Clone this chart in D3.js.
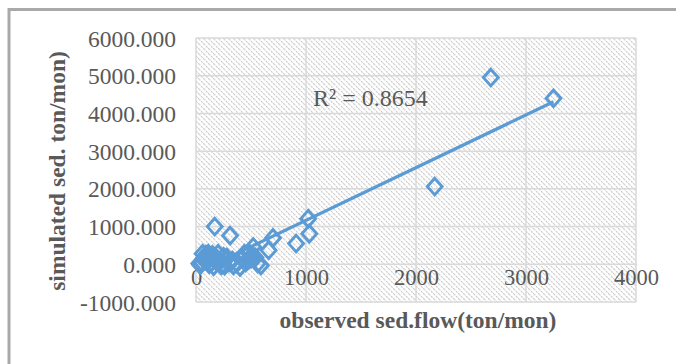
<!DOCTYPE html>
<html><head><meta charset="utf-8">
<script src="https://cdn.jsdelivr.net/npm/d3@7"></script>
<style>
html,body{margin:0;padding:0;background:#fff;}
svg{display:block;}
svg text{font-family:"Liberation Serif","Times New Roman",serif !important;}
</style></head>
<body>
<script>
// observed sediment flow (ton/mon)
const observed = [30, 40, 50, 60, 70, 80, 90, 100, 110, 120, 130, 140, 150, 160, 170, 180, 190, 200, 210, 230, 250, 260, 280, 300, 310, 330, 340, 370, 400, 420, 440, 450, 470, 480, 500, 510, 520, 540, 560, 590, 660, 700, 910, 1020, 1030, 2170, 2680, 3250];
// simulated sediment (ton/mon)
const simulated = [20, -20, 60, 280, 150, 100, 250, 180, 280, 0, 200, 50, 250, -50, 1000, 100, 150, 280, 50, -30, 200, -40, 180, 50, 760, 100, -30, 20, -70, 150, 280, 50, 100, 300, 150, 240, 460, 180, 20, -30, 370, 700, 550, 1210, 810, 2060, 4950, 4400];
const xTicks = [0, 1000, 2000, 3000, 4000];
const yTicks = [-1000, 0, 1000, 2000, 3000, 4000, 5000, 6000];
const r2Label = "R² = 0.8654";
const xTitle = "observed sed.flow(ton/mon)";
const yTitle = "simulated sed. ton/mon)";

const W = 676, H = 364;
const FONT = '"Liberation Serif","Times New Roman",serif';
const svg = d3.select("body").append("svg").attr("width", W).attr("height", H);

const plot = {left: 196, right: 636, top: 38, bottom: 302};
const x = d3.scaleLinear().domain([0, 4000]).range([plot.left, plot.right]);
const y = d3.scaleLinear().domain([-1000, 6000]).range([plot.bottom, plot.top]);

// hatch pattern
const defs = svg.append("defs");
const pat = defs.append("pattern").attr("id", "hatch").attr("patternUnits", "userSpaceOnUse")
  .attr("width", 5).attr("height", 5);
pat.append("rect").attr("width", 5).attr("height", 5).attr("fill", "#fff");
pat.append("path").attr("d", "M-1,-1 L6,6 M-1,4 L1,6 M4,-1 L6,1")
  .attr("stroke", "#c8c8c8").attr("stroke-width", 1.1).attr("stroke-dasharray", "2,1");

// outer frame (left and top visible)
svg.append("line").attr("x1", 9).attr("x2", W).attr("y1", 9.5).attr("y2", 9.5)
  .attr("stroke", "#a9a9a9").attr("stroke-width", 3);
svg.append("line").attr("x1", 9).attr("x2", 9).attr("y1", 8).attr("y2", H)
  .attr("stroke", "#a9a9a9").attr("stroke-width", 3);

// plot background
svg.append("rect").attr("x", plot.left).attr("y", plot.top)
  .attr("width", plot.right - plot.left).attr("height", plot.bottom - plot.top)
  .attr("fill", "url(#hatch)");

// gridlines
const grid = svg.append("g");
grid.selectAll(".hg").data(yTicks).join("line")
  .attr("x1", plot.left).attr("x2", plot.right)
  .attr("y1", d => y(d)).attr("y2", d => y(d))
  .attr("stroke", "#d9d9d9").attr("stroke-width", 1.5);
grid.selectAll(".vg").data(xTicks).join("line")
  .attr("y1", plot.top).attr("y2", plot.bottom)
  .attr("x1", d => x(d)).attr("x2", d => x(d))
  .attr("stroke", "#d9d9d9").attr("stroke-width", 1.5);

// y axis labels
const yAxis = d3.axisLeft(y).tickValues(yTicks).tickSize(0).tickPadding(20)
  .tickFormat(d => d3.format(".3f")(d).replace("−", "-"));
const ya = svg.append("g").attr("transform", `translate(${plot.left},0)`).call(yAxis)
  .attr("font-family", null).attr("font-size", null);
ya.select(".domain").remove();
ya.selectAll("text").style("font-family", FONT).style("font-size", "23.5px")
  .attr("fill", "#595959").attr("dy", "0.34em");

// x axis labels (placed near plot bottom)
const xAxis = d3.axisBottom(x).tickValues(xTicks).tickSize(0).tickPadding(0).tickFormat(d3.format("d"));
const xa = svg.append("g").attr("transform", `translate(0,${plot.bottom - 19})`).call(xAxis)
  .attr("font-family", null).attr("font-size", null);
xa.select(".domain").remove();
xa.selectAll("text").style("font-family", FONT).style("font-size", "22.5px")
  .attr("fill", "#595959").attr("dy", "0.1em");

// trendline (least squares)
const n = observed.length;
const mx = d3.mean(observed), my = d3.mean(simulated);
let sxy = 0, sxx = 0;
for (let i = 0; i < n; i++) { sxy += (observed[i]-mx)*(simulated[i]-my); sxx += (observed[i]-mx)**2; }
const slope = sxy / sxx, intercept = my - slope * mx;
const xe = d3.extent(observed);
svg.append("line")
  .attr("x1", x(xe[0])).attr("y1", y(intercept + slope*xe[0]))
  .attr("x2", x(xe[1])).attr("y2", y(intercept + slope*xe[1]))
  .attr("stroke", "#5b9bd5").attr("stroke-width", 3.2);

// markers
const pts = observed.map((v, i) => ({o: v, s: simulated[i]}));
svg.append("g").selectAll("path").data(pts).join("path")
  .attr("d", d3.symbol().type(d3.symbolDiamond2).size(140))
  .attr("transform", d => `translate(${x(d.o)},${y(d.s)}) scale(1,1.12)`)
  .attr("fill", "none").attr("stroke", "#5b9bd5").attr("stroke-width", 2.8);

// R² label
svg.append("text").attr("x", 313).attr("y", 98).attr("dy", "0.34em")
  .style("font-family", FONT).style("font-size", "24px").attr("fill", "#595959").text(r2Label);

// axis titles
svg.append("text").attr("x", 418).attr("y", 328).attr("text-anchor", "middle")
  .style("font-family", FONT).style("font-size", "23.5px").attr("font-weight", "bold").attr("fill", "#595959").text(xTitle);
svg.append("text").attr("transform", "translate(65,171) rotate(-90)").attr("text-anchor", "middle")
  .style("font-family", FONT).style("font-size", "23.5px").attr("font-weight", "bold").attr("fill", "#595959").text(yTitle);
</script>
</body></html>
